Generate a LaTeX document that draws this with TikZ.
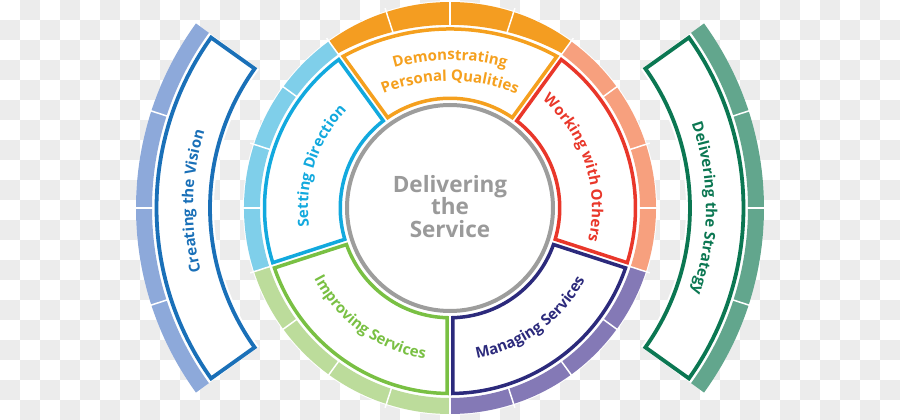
\documentclass[tikz,border=0pt]{standalone}
\usepackage{fontspec}
\setmainfont{Open Sans}
\usetikzlibrary{decorations.text}
\definecolor{sdirline}{HTML}{12A9DE}\definecolor{sdirband}{HTML}{7FCFEA}
\definecolor{perline}{HTML}{F5A01E}\definecolor{perband}{HTML}{F49D21}
\definecolor{workline}{HTML}{E9372A}\definecolor{workband}{HTML}{F7A07E}
\definecolor{manline}{HTML}{2C2A7C}\definecolor{manband}{HTML}{8479B6}
\definecolor{impline}{HTML}{79C043}\definecolor{impband}{HTML}{BCDC9B}
\definecolor{visline}{HTML}{1A70B8}\definecolor{visband}{HTML}{8DA9DA}
\definecolor{strline}{HTML}{0B7752}\definecolor{strband}{HTML}{62A68D}
\definecolor{hubline}{HTML}{9D9D9C}\definecolor{hubtext}{HTML}{9A9A9A}
\definecolor{checker}{HTML}{ECECEC}
\newcommand{\segfont}{\bfseries\fontsize{15}{15}\selectfont}
% inner ring: box and band of one segment
\newcommand{\ringbox}[3]{\draw[segbox=#3] ({#1+1.44}:109.75) arc[start angle={#1+1.44}, end angle={#2-1.44}, radius=109.75] -- ({#2-0.85}:185.5) arc[start angle={#2-0.85}, end angle={#1+0.85}, radius=185.5] -- cycle;}
\newcommand{\ringband}[3]{\fill[#3] (#1:190) arc[start angle=#1, end angle=#2, radius=190] -- (#2:206) arc[start angle=#2, end angle=#1, radius=206] -- cycle;}
% outer side arcs
\newcommand{\sidearc}[4]{%
\fill[white] (#1:236) arc[start angle=#1, end angle=#2, radius=236] -- (#2:314) arc[start angle=#2, end angle=#1, radius=314] -- cycle;
\fill[#4] (#1:298) arc[start angle=#1, end angle=#2, radius=298] -- (#2:314) arc[start angle=#2, end angle=#1, radius=314] -- cycle;
\foreach \t in {18,36,54} \draw[tick] ({#1+\t}:296) -- ({#1+\t}:316);
\draw[sidebox=#3] ({#1+0.5}:240) arc[start angle={#1+0.5}, end angle={#2-0.5}, radius=240] -- ({#2-0.5}:293.5) arc[start angle={#2-0.5}, end angle={#1+0.5}, radius=293.5] -- cycle;}
\begin{document}
\begin{tikzpicture}[x=1pt,y=1pt,
  segbox/.style={draw=#1, fill=white, line width=3.5pt, line join=miter},
  sidebox/.style={draw=#1, fill=white, line width=3.8pt, line join=miter},
  tick/.style={draw=white, line width=1.5pt},
  arclabel/.style={decorate, decoration={text along path, text align=center, text color=#1}},
  hubtext/.style={text=hubtext, font=\bfseries\fontsize{22.5}{22.5}\selectfont, anchor=base, inner sep=0pt}]
\useasboundingbox (-450,-212) rectangle (450,208);
% transparency checkerboard
\foreach \i in {0,...,44}{\foreach \j in {0,...,20}{\ifodd\numexpr\i+\j\relax
  \fill[checker] ({-450+20*\i},{208-20*\j}) rectangle ++(20,-20);\fi}}
% side arcs
\sidearc{144}{216}{visline}{visband}
\sidearc{-36}{36}{strline}{strband}
% inner ring
\fill[white] (0,0) circle[radius=207];
\ringband{126}{198}{sdirband}
\ringband{-18}{54}{workband}
\ringband{270}{342}{manband}
\ringband{198}{270}{impband}
\fill[perband] (54:206) arc[start angle=54, end angle=126, radius=206] -- (-112.3,154.5) arc[start angle=118.65, end angle=61.35, radius=234.2] -- cycle;
\foreach \a in {0,18,...,342} \draw[tick] (\a:150) -- (\a:210);
\ringbox{126}{198}{sdirline}
\ringbox{-18}{54}{workline}
\ringbox{270}{342}{manline}
\ringbox{198}{270}{impline}
\draw[segbox=perline] (55.44:109.75) arc[start angle=55.44, end angle=124.56, radius=109.75] -- (125.15:185.5) arc[start angle=118.75, end angle=61.25, radius=222.1] -- cycle;
% hub
\draw[hubline, line width=4pt] (0,0) circle[radius=103];
\node[hubtext] (hubA) at (0,15) {Delivering};
\node[hubtext] (hubB) at (0,-7) {the};
\node[hubtext] (hubC) at (0,-30) {Service};
% labels
\path[arclabel=sdirline, decoration={text={|\segfont|Setting Direction}}] (198:142) arc[start angle=198, end angle=126, radius=142];
\path[arclabel=workline, decoration={text={|\segfont|Working with Others}}] (54:142) arc[start angle=54, end angle=-18, radius=142];
\path[arclabel=impline, decoration={text={|\segfont|Improving Services}}] (198:153) arc[start angle=198, end angle=270, radius=153];
\path[arclabel=manline, decoration={text={|\segfont|Managing Services}}] (270:153) arc[start angle=270, end angle=342, radius=153];
\path[arclabel=perline, shift={(0,-50)}, decoration={text={|\segfont|Demonstrating}}] (125:198) arc[start angle=125, end angle=55, radius=198];
\path[arclabel=perline, shift={(0,-50)}, decoration={text={|\segfont|Personal Qualities}}] (125:177) arc[start angle=125, end angle=55, radius=177];
\path[arclabel=visline, decoration={text={|\segfont|Creating the Vision}}] (214.5:257) arc[start angle=214.5, end angle=142.5, radius=257];
\path[arclabel=strline, decoration={text={|\segfont|Delivering the Strategy}}] (36:256) arc[start angle=36, end angle=-36, radius=256];
\end{tikzpicture}
\end{document}
